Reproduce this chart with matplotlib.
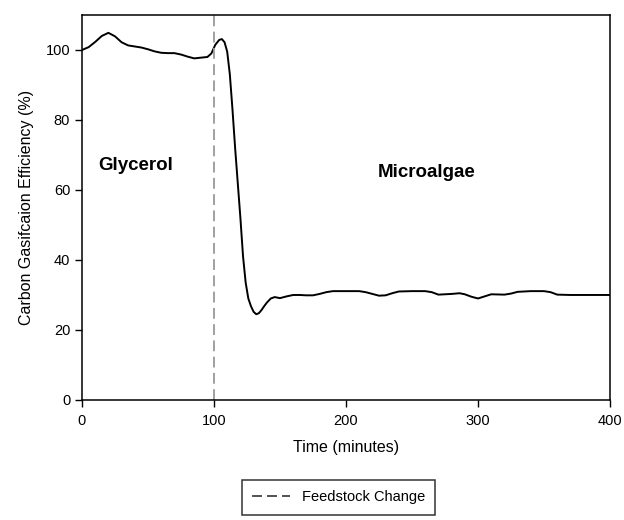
import matplotlib.pyplot as plt
from matplotlib.lines import Line2D

plt.rcParams['font.family'] = ['Liberation Sans', 'DejaVu Sans']

# Carbon gasification efficiency
time_min = [0, 5, 10, 15, 20, 25, 30, 35, 40, 45, 50, 55, 60, 65, 70, 75,
            80, 85, 90, 95, 98, 101, 104, 106, 108, 110, 112, 114, 116, 118,
            120, 122, 124, 126, 128, 130, 132, 134, 136, 138, 140, 143, 146,
            150, 155, 160, 165, 170, 175, 180, 185, 190, 200, 210, 215, 220,
            225, 230, 235, 240, 250, 260, 265, 270, 280, 286, 290, 295, 300,
            305, 310, 320, 325, 330, 340, 350, 355, 360, 370, 380, 390, 400]
efficiency = [100, 100.8, 102.3, 104, 104.9, 103.9, 102.2, 101.3, 101, 100.7,
              100.2, 99.6, 99.2, 99.1, 99.1, 98.7, 98.1, 97.6, 97.8, 98, 99,
              101.5, 102.9, 103.1, 102.2, 99.5, 93, 83, 72, 62, 52, 41, 33.5,
              29, 26.8, 25.2, 24.5, 24.8, 25.7, 26.8, 27.8, 29, 29.4, 29.1,
              29.6, 30, 30, 29.9, 29.9, 30.3, 30.8, 31.1, 31.1, 31.1, 30.8,
              30.3, 29.8, 29.9, 30.5, 31, 31.1, 31.1, 30.8, 30.1, 30.3, 30.5,
              30.2, 29.5, 29, 29.6, 30.2, 30.1, 30.4, 30.9, 31.1, 31.1, 30.8,
              30.1, 30, 30, 30, 30]
feed_change = 100
x_ticks = [0, 100, 200, 300, 400]
y_ticks = [0, 20, 40, 60, 80, 100]

fig = plt.figure(figsize=(6.24, 5.2), dpi=100)
ax = fig.add_axes([0.1314, 0.2308, 0.8462, 0.7404])

ax.plot(time_min, efficiency, color='black', lw=1.4)
ax.axvline(feed_change, color='#999999', lw=1.3, ls=(0, (6, 3)))

ax.set_xlim(0, 400)
ax.set_ylim(0, 110)
ax.set_xticks(x_ticks)
ax.set_yticks(y_ticks)
ax.tick_params(direction='out', length=5, width=1, labelsize=10.5)
ax.tick_params(axis='x', pad=5)
for s in ax.spines.values():
    s.set_linewidth(1.1)

ax.set_xlabel('Time (minutes)', fontsize=11.5, labelpad=9)
ax.set_ylabel('Carbon Gasifcaion Efficiency (%)', fontsize=11.5, labelpad=8)

ax.text(12, 67, 'Glycerol', fontsize=13.5, fontweight='bold', va='center')
ax.text(261, 65, 'Microalgae', fontsize=13.5, fontweight='bold',
        va='center', ha='center')

handle = Line2D([], [], color='#333333', lw=1.2, ls=(0, (6, 3)),
                label='Feedstock Change')
fig.legend(handles=[handle], loc='center', bbox_to_anchor=(0.5425, 0.0433),
           fontsize=10.5, frameon=True, fancybox=False, edgecolor='black',
           handlelength=2.6, handletextpad=0.8, borderpad=0.7,
           borderaxespad=0).get_frame().set_linewidth(1.1)

fig.savefig('out.png', dpi=100)
